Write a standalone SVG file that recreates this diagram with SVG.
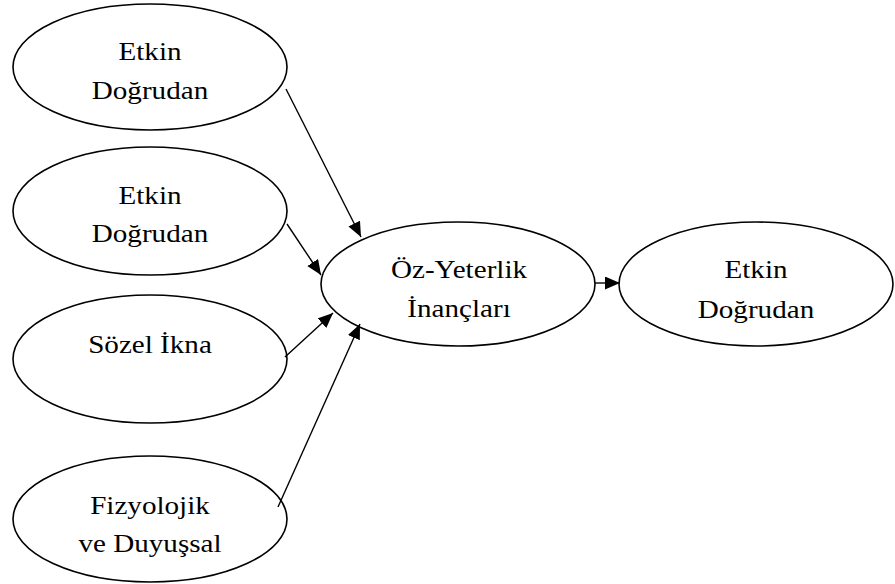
<svg xmlns="http://www.w3.org/2000/svg" width="895" height="584" viewBox="0 0 895 584">
<style>
.node ellipse{fill:#fff;stroke:#000;stroke-width:1.6}
.node text{font-family:"Liberation Serif","Times New Roman",serif;font-size:26px;fill:#000;text-anchor:middle}
.edges line{stroke:#000;stroke-width:1.4;fill:none}
</style>
<defs>
<marker id="arr" markerUnits="userSpaceOnUse" markerWidth="16" markerHeight="14" refX="15" refY="6.5" orient="auto">
<path d="M0,0 L15,6.5 L0,13 Z" fill="#000"/>
</marker>
</defs>
<rect width="895" height="584" fill="#fff"/>
<g id="n1" class="node">
<ellipse cx="150" cy="67" rx="137" ry="63"/>
<text transform="translate(150,60) scale(1.12,1)">Etkin</text>
<text transform="translate(150,99) scale(1.12,1)">Doğrudan</text>
</g>
<g id="n2" class="node">
<ellipse cx="150" cy="211" rx="137" ry="64"/>
<text transform="translate(150,204) scale(1.12,1)">Etkin</text>
<text transform="translate(150,242) scale(1.12,1)">Doğrudan</text>
</g>
<g id="n3" class="node">
<ellipse cx="150" cy="359" rx="137" ry="64"/>
<text transform="translate(150,353) scale(1.12,1)">Sözel İkna</text>
</g>
<g id="n4" class="node">
<ellipse cx="150" cy="519" rx="137" ry="63"/>
<text transform="translate(150,514) scale(1.12,1)">Fizyolojik</text>
<text transform="translate(150,552) scale(1.12,1)">ve Duyuşsal</text>
</g>
<g id="n5" class="node">
<ellipse cx="458" cy="284" rx="137" ry="62"/>
<text transform="translate(459,278) scale(1.12,1)">Öz-Yeterlik</text>
<text transform="translate(459,317) scale(1.12,1)">İnançları</text>
</g>
<g id="n6" class="node">
<ellipse cx="756" cy="284" rx="137" ry="62"/>
<text transform="translate(756,278) scale(1.12,1)">Etkin</text>
<text transform="translate(756,318) scale(1.12,1)">Doğrudan</text>
</g>
<g id="edges" class="edges">
<line x1="286" y1="89" x2="361" y2="237" marker-end="url(#arr)"/>
<line x1="287" y1="224" x2="321" y2="275" marker-end="url(#arr)"/>
<line x1="285" y1="357" x2="333" y2="313" marker-end="url(#arr)"/>
<line x1="278" y1="507" x2="360" y2="324" marker-end="url(#arr)"/>
<line x1="595" y1="283" x2="620" y2="283" marker-end="url(#arr)"/>
</g>
</svg>
